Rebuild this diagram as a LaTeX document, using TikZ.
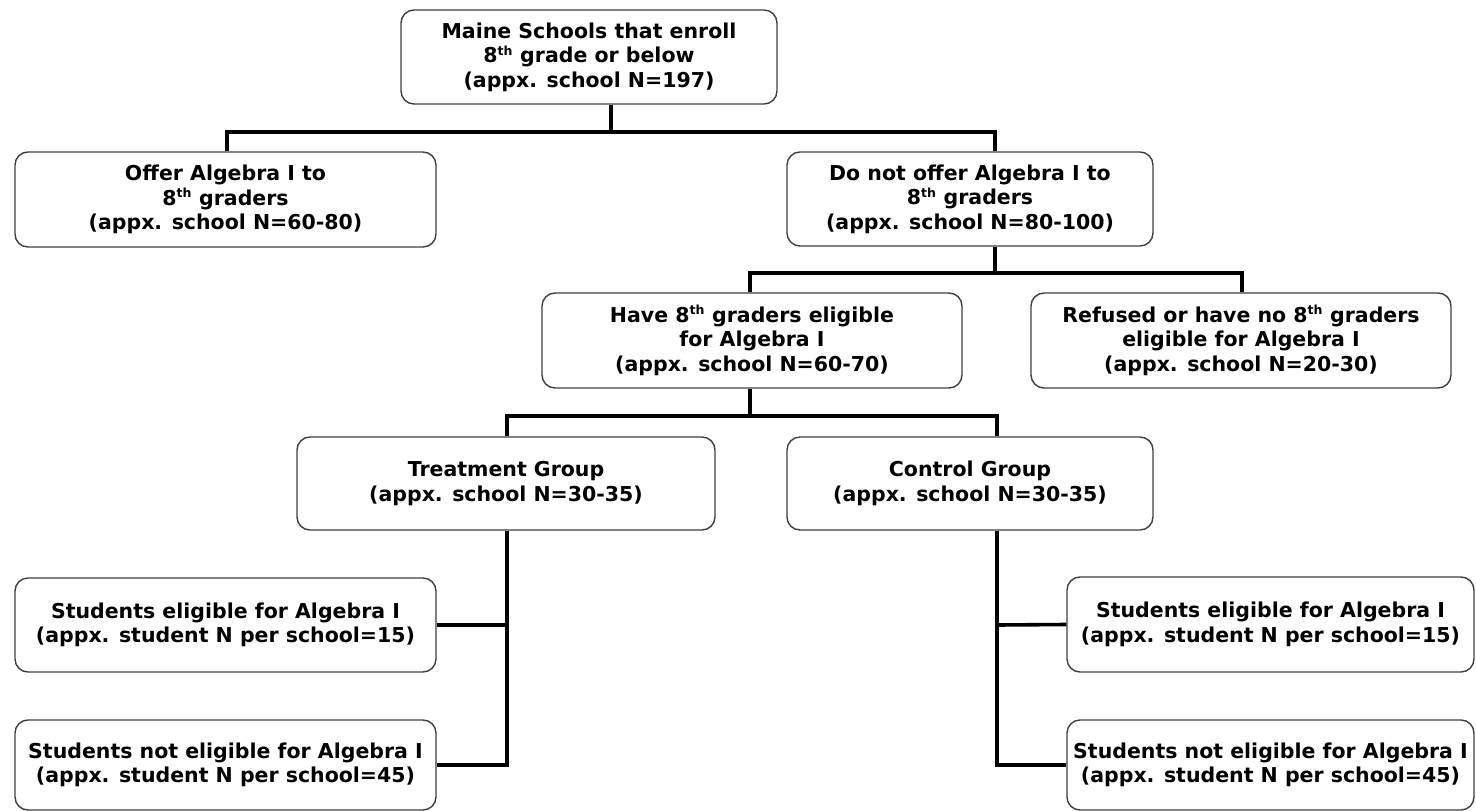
\documentclass[tikz,border=0pt]{standalone}
\usepackage{fontspec}
\setmainfont{DejaVu Sans}
\begin{document}
\begin{tikzpicture}[x=1pt,y=-1pt,
  box/.style={draw=black!75, line width=1.4pt, rounded corners=13pt, fill=white,
    align=center, inner sep=0pt, font=\bfseries\fontsize{20.5}{24.5}\selectfont},
  conn/.style={draw=black, line width=3.6pt}]
\useasboundingbox[fill=white] (0,0) rectangle (1476,811);
\newcommand{\bx}[6]{\node[box, minimum width=#4pt, minimum height=#5pt] (#1) at (#2,#3) {#6};}
\newcommand{\thsup}{\textsuperscript{\fontsize{12.5}{12.5}\selectfont th}}
\bx{top}{589}{57}{376}{94}{Maine Schools that enroll\\8\thsup{} grade or below\\(appx. school N=197)}
\bx{offer}{225.5}{199.5}{421}{95}{Offer Algebra I to\\8\thsup{} graders\\(appx. school N=60-80)}
\bx{notoffer}{970}{199}{366}{94}{Do not offer Algebra I to\\8\thsup{} graders\\(appx. school N=80-100)}
\bx{have}{752}{340.5}{420}{95}{Have 8\thsup{} graders eligible\\for Algebra I\\(appx. school N=60-70)}
\bx{refused}{1241}{340.5}{420}{95}{Refused or have no 8\thsup{} graders\\eligible for Algebra I\\(appx. school N=20-30)}
\bx{treat}{506}{483.5}{418}{93}{Treatment Group\\(appx. school N=30-35)}
\bx{control}{970}{483.5}{366}{93}{Control Group\\(appx. school N=30-35)}
\bx{s1}{225.5}{625}{421}{94}{Students eligible for Algebra I\\(appx. student N per school=15)}
\bx{s2}{225.5}{765}{421}{90}{Students not eligible for Algebra I\\(appx. student N per school=45)}
\bx{s3}{1270.5}{624.5}{407}{95}{Students eligible for Algebra I\\(appx. student N per school=15)}
\bx{s4}{1270.5}{765}{407}{90}{Students not eligible for Algebra I\\(appx. student N per school=45)}
\coordinate (b1) at (611,132);
\coordinate (b2) at (995,273);
\coordinate (b3) at (750,416);
\coordinate (t1) at (507,625);
\coordinate (c1) at (997,625);
% level 1
\draw[conn] (top.south -| b1) -- (b1);
\draw[conn] ([xshift=1.5pt]offer.north) |- (b1) -| ([xshift=25pt]notoffer.north);
% level 2
\draw[conn] (notoffer.south -| b2) -- (b2);
\draw[conn] ([xshift=-2pt]have.north) |- (b2) -| ([xshift=1pt]refused.north);
% level 3
\draw[conn] (have.south -| b3) -- (b3);
\draw[conn] ([xshift=1pt]treat.north) |- (b3) -| ([xshift=27pt]control.north);
% treatment students
\draw[conn] (treat.south -| t1) -- (t1 |- s2.east) -- (s2.east);
\draw[conn] (s1.east) -- (t1);
% control students
\draw[conn] (control.south -| c1) -- (c1 |- s4.west) -- (s4.west);
\draw[conn] (s3.west) -- (c1);
\end{tikzpicture}
\end{document}
